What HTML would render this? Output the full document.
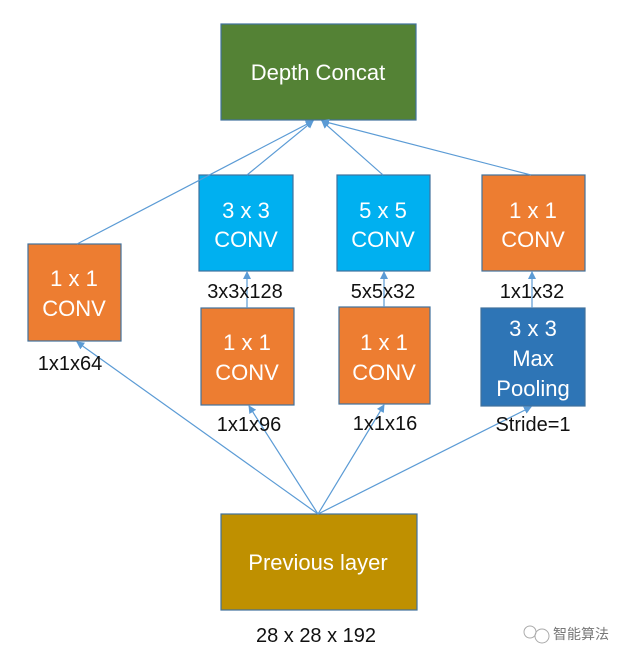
<!DOCTYPE html>
<html><head><meta charset="utf-8"><style>
body{margin:0;background:#fff;}
svg{display:block}
text{font-family:"Liberation Sans","Noto Sans CJK SC",sans-serif;}
.w{fill:#fff;font-size:22px;text-anchor:middle}
.k{fill:#111;font-size:20px;text-anchor:middle}
.b{stroke:#41719c;stroke-width:1.2}
</style></head><body>
<svg width="633" height="662" viewBox="0 0 633 662" xmlns="http://www.w3.org/2000/svg">
<defs><marker id="a" markerWidth="8" markerHeight="8" refX="7" refY="4" orient="auto" markerUnits="userSpaceOnUse"><path d="M0,0 L8,4 L0,8 Z" fill="#5b9bd5"/></marker></defs>
<rect x="221" y="24" width="195" height="96" fill="#548235" class="b"/>
<text x="318" y="80" class="w">Depth Concat</text>
<rect x="199" y="175" width="94" height="96" fill="#00b0f0" class="b"/>
<text x="246" y="218" class="w">3 x 3</text><text x="246" y="247" class="w">CONV</text>
<rect x="337" y="175" width="93" height="96" fill="#00b0f0" class="b"/>
<text x="383" y="218" class="w">5 x 5</text><text x="383" y="247" class="w">CONV</text>
<rect x="482" y="175" width="103" height="96" fill="#ed7d31" class="b"/>
<text x="533" y="218" class="w">1 x 1</text><text x="533" y="247" class="w">CONV</text>
<rect x="28" y="244" width="93" height="97" fill="#ed7d31" class="b"/>
<text x="74" y="286" class="w">1 x 1</text><text x="74" y="316" class="w">CONV</text>
<rect x="201" y="308" width="93" height="97" fill="#ed7d31" class="b"/>
<text x="247" y="350" class="w">1 x 1</text><text x="247" y="380" class="w">CONV</text>
<rect x="339" y="307" width="91" height="97" fill="#ed7d31" class="b"/>
<text x="384" y="350" class="w">1 x 1</text><text x="384" y="380" class="w">CONV</text>
<rect x="481" y="308" width="104" height="98" fill="#2e75b6" class="b"/>
<text x="533" y="336" class="w">3 x 3</text><text x="533" y="366" class="w">Max</text><text x="533" y="396" class="w">Pooling</text>
<rect x="221" y="514" width="196" height="96" fill="#bf9000" class="b"/>
<text x="318" y="570" class="w">Previous layer</text>
<g stroke="#5b9bd5" stroke-width="1.2" fill="none" marker-end="url(#a)">
<line x1="77" y1="244" x2="313" y2="121"/>
<line x1="247" y1="175" x2="313" y2="121"/>
<line x1="383" y1="175" x2="322" y2="121"/>
<line x1="531" y1="175" x2="322" y2="121"/>
<line x1="247" y1="308" x2="247" y2="272"/>
<line x1="384" y1="307" x2="384" y2="272"/>
<line x1="532" y1="308" x2="532" y2="272"/>
<line x1="318" y1="514" x2="77" y2="342"/>
<line x1="318" y1="514" x2="249" y2="406"/>
<line x1="318" y1="514" x2="384" y2="405"/>
<line x1="318" y1="514" x2="531" y2="407"/>
</g>
<text x="245" y="298" class="k">3x3x128</text>
<text x="383" y="298" class="k">5x5x32</text>
<text x="532" y="298" class="k">1x1x32</text>
<text x="70" y="370" class="k">1x1x64</text>
<text x="249" y="431" class="k">1x1x96</text>
<text x="385" y="430" class="k">1x1x16</text>
<text x="533" y="431" class="k">Stride=1</text>
<text x="316" y="642" class="k">28 x 28 x 192</text>
<circle cx="530" cy="632" r="6" fill="none" stroke="#aaa" stroke-width="1"/>
<circle cx="542" cy="636" r="7" fill="none" stroke="#aaa" stroke-width="1"/>
<text x="553" y="639" style="font-size:14px;fill:#777">智能算法</text>
</svg>
</body></html>
